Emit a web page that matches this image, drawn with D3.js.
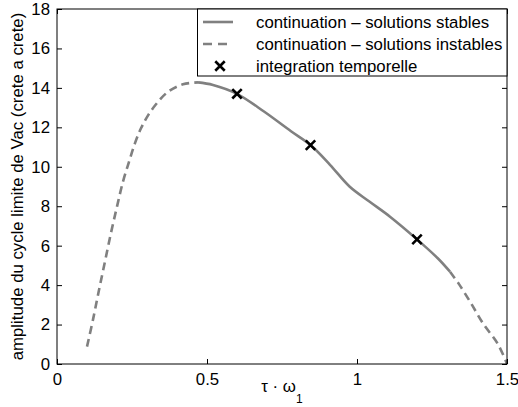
<!DOCTYPE html>
<html><head><meta charset="utf-8">
<script src="https://cdn.jsdelivr.net/npm/d3@7"></script>
<style>body{margin:0;background:#fff}svg{display:block}text{font-family:"Liberation Sans",Arial,sans-serif}</style>
</head><body>
<svg id="c" width="518" height="407"></svg>
<script>
const unstableLowTau = [0.10, 0.12, 0.14, 0.16, 0.18, 0.20, 0.22, 0.24, 0.26, 0.28, 0.30, 0.33, 0.37, 0.42, 0.47];
const unstableLowAmp = [0.88, 2.25, 3.75, 5.2, 6.65, 7.98, 9.25, 10.25, 11.2, 11.95, 12.52, 13.17, 13.8, 14.18, 14.28];
const stableTau = [0.47, 0.52, 0.60, 0.69, 0.78, 0.845, 0.91, 0.975, 1.04, 1.11, 1.20, 1.27, 1.31];
const stableAmp = [14.28, 14.15, 13.7, 12.8, 11.8, 11.1, 10.1, 9.0, 8.25, 7.47, 6.32, 5.35, 4.68];
const unstableHighTau = [1.31, 1.34, 1.38, 1.42, 1.47, 1.50];
const unstableHighAmp = [4.68, 4.05, 3.08, 2.06, 1.0, 0.0];
const integTau = [0.60, 0.845, 1.20];
const integAmp = [13.7, 11.1, 6.32];
const xTicks = [0, 0.5, 1, 1.5];
const yTicks = [0, 2, 4, 6, 8, 10, 12, 14, 16, 18];
const legendLabels = ["continuation \u2013 solutions stables", "continuation \u2013 solutions instables", "integration temporelle"];

const svg = d3.select("#c");
const m = {l:57, t:9, r:11, b:43};
const W = 518, H = 407;
const x = d3.scaleLinear().domain([0, 1.5]).range([m.l, W - m.r]);
const y = d3.scaleLinear().domain([0, 18]).range([H - m.b, m.t]);
const grey = "#808080";
const fs = "16.8px";

const line = d3.line().x(d => x(d[0])).y(d => y(d[1])).curve(d3.curveCatmullRom);
const zip = (a, b) => a.map((v, i) => [v, b[i]]);

// curves
svg.append("path").datum(zip(unstableLowTau, unstableLowAmp)).attr("d", line)
  .attr("fill", "none").attr("stroke", grey).attr("stroke-width", 2.6).attr("stroke-dasharray", "8,5");
svg.append("path").datum(zip(stableTau, stableAmp)).attr("d", line)
  .attr("fill", "none").attr("stroke", grey).attr("stroke-width", 2.6);
svg.append("path").datum(zip(unstableHighTau, unstableHighAmp)).attr("d", line)
  .attr("fill", "none").attr("stroke", grey).attr("stroke-width", 2.6).attr("stroke-dasharray", "8,5");

// markers
const cross = d3.symbol().type(d3.symbolX).size(60);
svg.selectAll(".mk").data(zip(integTau, integAmp)).join("path")
  .attr("transform", d => `translate(${x(d[0])},${y(d[1])})`)
  .attr("d", cross()).attr("fill", "none").attr("stroke", "#000").attr("stroke-width", 2.6);

// axes (ticks inside, on all sides)
const tl = 5;
svg.append("g").attr("transform", `translate(0,${H - m.b})`)
  .call(d3.axisBottom(x).tickValues(xTicks).tickSizeInner(-tl).tickSizeOuter(0).tickPadding(9).tickFormat(d3.format("")))
  .call(g => { g.select(".domain").remove(); g.selectAll("text").attr("font-size", fs).attr("fill","#000").attr("font-family", null); });
svg.append("g").attr("transform", `translate(0,${m.t})`)
  .call(d3.axisTop(x).tickValues(xTicks).tickSizeInner(-tl).tickSizeOuter(0).tickFormat(""))
  .call(g => g.select(".domain").remove());
svg.append("g").attr("transform", `translate(${m.l},0)`)
  .call(d3.axisLeft(y).tickValues(yTicks).tickSizeInner(-tl).tickSizeOuter(0).tickPadding(7))
  .call(g => { g.select(".domain").remove(); g.selectAll("text").attr("font-size", fs).attr("fill","#000").attr("font-family", null); });
svg.append("g").attr("transform", `translate(${W - m.r},0)`)
  .call(d3.axisRight(y).tickValues(yTicks).tickSizeInner(-tl).tickSizeOuter(0).tickFormat(""))
  .call(g => g.select(".domain").remove());
svg.append("rect").attr("x", m.l).attr("y", m.t).attr("width", W - m.l - m.r).attr("height", H - m.t - m.b)
  .attr("fill", "none").attr("stroke", "#000").attr("stroke-width", 1);

// axis labels
const xl = svg.append("text").attr("x", 282).attr("y", 392).attr("text-anchor", "middle").attr("font-size", fs);
xl.append("tspan").text("\u03c4 \u00b7 \u03c9");
xl.append("tspan").attr("dy", 11).attr("font-size", "12px").text("1");
svg.append("text").attr("transform", `translate(23,${(m.t + H - m.b) / 2}) rotate(-90)`)
  .attr("text-anchor", "middle").attr("font-size", fs).text("amplitude du cycle limite de Vac (crete a crete)");

// legend
const lg = svg.append("g");
const lx0 = 197.5, ly0 = m.t, lx1 = W - m.r, ly1 = 76;
lg.append("rect").attr("x", lx0).attr("y", ly0).attr("width", lx1 - lx0).attr("height", ly1 - ly0)
  .attr("fill", "#fff").attr("stroke", "#000").attr("stroke-width", 1);
const rowY = [22, 44, 66];
lg.append("line").attr("x1", 203).attr("x2", 233).attr("y1", rowY[0]).attr("y2", rowY[0])
  .attr("stroke", grey).attr("stroke-width", 2.6);
lg.append("line").attr("x1", 203).attr("x2", 233).attr("y1", rowY[1]).attr("y2", rowY[1])
  .attr("stroke", grey).attr("stroke-width", 2.6).attr("stroke-dasharray", "9,6");
lg.append("path").attr("transform", `translate(220,${rowY[2]})`).attr("d", cross())
  .attr("fill", "none").attr("stroke", "#000").attr("stroke-width", 2.6);
lg.selectAll(".lt").data(legendLabels).join("text")
  .attr("x", 256).attr("y", (d, i) => rowY[i]).attr("dy", "0.35em").attr("font-size", fs).text(d => d);
</script>
</body></html>
